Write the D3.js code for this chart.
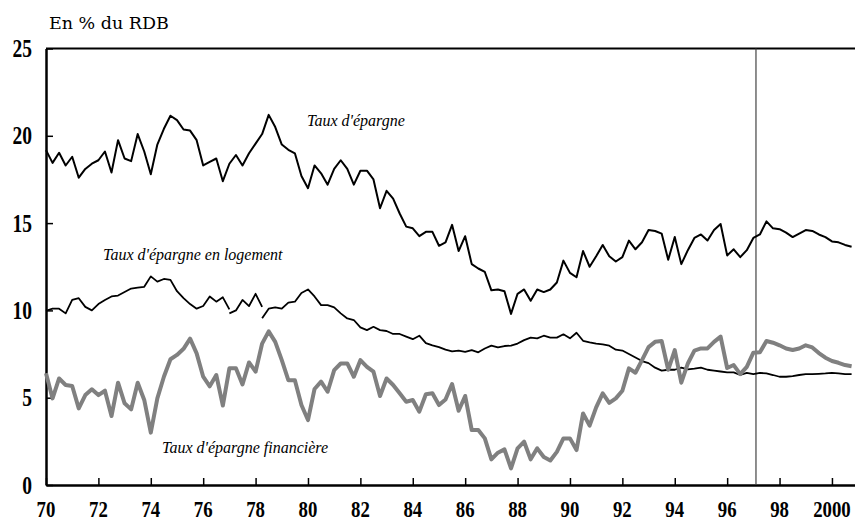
<!DOCTYPE html>
<html>
<head>
<meta charset="utf-8">
<script src="https://cdn.jsdelivr.net/npm/d3@7"></script>
<style>
  html, body { margin: 0; padding: 0; background: #fff; }
  svg { display: block; }
</style>
</head>
<body>
<div id="chart"></div>
<script>
// Données trimestrielles, 1970T1 -> 2000T4 (en % du RDB)
const startYear = 1970;

const tauxEpargne = [
  19.18, 18.45, 19.03, 18.3, 18.8, 17.6, 18.1, 18.4, 18.6, 19.1,
  17.9, 19.75, 18.7, 18.55, 20.1, 19.1, 17.8, 19.5, 20.4, 21.15,
  20.9, 20.36, 20.3, 19.75, 18.3, 18.5, 18.7, 17.4, 18.4, 18.9,
  18.3, 19.0, 19.55, 20.1, 21.2, 20.5, 19.5, 19.2, 19.0, 17.7,
  17.0, 18.3, 17.85, 17.2, 18.1, 18.6, 18.1, 17.2, 18.0, 18.0,
  17.5, 15.85, 16.85, 16.4, 15.55, 14.8, 14.7, 14.25, 14.5, 14.5,
  13.7, 13.9, 14.9, 13.4, 14.25, 12.65, 12.4, 12.2, 11.15, 11.2,
  11.1, 9.8, 10.95, 11.2, 10.55, 11.2, 11.05, 11.2, 11.6, 12.85,
  12.15, 11.9, 13.4, 12.5, 13.1, 13.75, 13.1, 12.8, 13.05, 14.0,
  13.5, 13.9, 14.6, 14.55, 14.4, 12.9, 14.2, 12.65, 13.45, 14.15,
  14.35, 14.0, 14.6, 14.95, 13.15, 13.5, 13.05, 13.45, 14.15, 14.35,
  15.1, 14.7, 14.65, 14.45, 14.2, 14.4, 14.6, 14.55, 14.35, 14.2,
  13.95, 13.9, 13.75, 13.65
];

const tauxLogement = [
  9.98, 10.1, 10.1, 9.83, 10.6, 10.7, 10.2, 10.0, 10.36, 10.6,
  10.8, 10.85, 11.05, 11.25, 11.3, 11.35, 11.95, 11.65, 11.8, 11.75,
  11.1, 10.7, 10.36, 10.1, 10.25, 10.8, 10.5, 10.75, 9.83, 10.0,
  10.6, 10.25, 10.95, 9.55, 10.1, 10.17, 10.1, 10.45, 10.5, 11.0,
  11.2, 10.8, 10.3, 10.3, 10.17, 9.83, 9.54, 9.45, 9.03, 8.87,
  9.06, 8.87, 8.82, 8.65, 8.65, 8.5, 8.35, 8.55, 8.13, 8.0,
  7.9, 7.75, 7.65, 7.7, 7.63, 7.73, 7.6, 7.82, 7.98, 7.88,
  7.96, 7.98, 8.1, 8.3, 8.44, 8.4, 8.55, 8.44, 8.44, 8.63,
  8.4, 8.72, 8.26, 8.17, 8.1, 8.05, 7.98, 7.75, 7.7, 7.5,
  7.3, 7.1, 6.98, 6.72, 6.55, 6.6, 6.6, 6.72, 6.62, 6.66,
  6.72, 6.6, 6.55, 6.5, 6.45, 6.45, 6.3, 6.42, 6.35, 6.42,
  6.39, 6.3, 6.2, 6.2, 6.24, 6.3, 6.35, 6.35, 6.37, 6.39,
  6.42, 6.39, 6.35, 6.35
];
// ruptures de série du taux d'épargne logement : l'ancien segment finit à "fin"
const ruptureLogement = [
  { q: 28, fin: 10.06 },
  { q: 33, fin: 10.2 }
];

const tauxFinancier = [
  6.4, 4.96, 6.1, 5.73, 5.67, 4.39, 5.15, 5.48, 5.15, 5.4,
  3.95, 5.86, 4.68, 4.33, 5.86, 4.87, 3.0, 4.96, 6.2, 7.2,
  7.45, 7.8, 8.38, 7.54, 6.2, 5.65, 6.3, 4.55, 6.68, 6.68,
  5.76, 7.02, 6.49, 8.1, 8.8, 8.2, 7.15, 6.0, 6.0, 4.58,
  3.72, 5.5, 5.92, 5.34, 6.58, 6.96, 6.96, 6.2, 7.15, 6.77,
  6.49, 5.1, 6.1, 5.73, 5.25, 4.77, 4.87, 4.2, 5.2, 5.25,
  4.58, 4.9, 5.78, 4.25, 5.1, 3.15, 3.15, 2.67, 1.47, 1.85,
  2.04, 0.95, 2.1, 2.48, 1.47, 2.1, 1.6, 1.4, 1.9, 2.67,
  2.67, 2.0, 4.1, 3.4, 4.45, 5.25, 4.7, 4.96, 5.4, 6.68,
  6.43, 7.15, 7.9, 8.2, 8.25, 6.6, 7.73, 5.86, 6.96, 7.7,
  7.82, 7.82, 8.2, 8.5, 6.7, 6.87, 6.35, 6.77, 7.58, 7.6,
  8.25, 8.15, 8.0, 7.82, 7.73, 7.82, 8.0, 7.88, 7.56, 7.29,
  7.1, 7.0, 6.87, 6.8
];

const xTicks = [1970, 1972, 1974, 1976, 1978, 1980, 1982, 1984, 1986, 1988, 1990, 1992, 1994, 1996, 1998, 2000];
const xTickLabels = ["70", "72", "74", "76", "78", "80", "82", "84", "86", "88", "90", "92", "94", "96", "98", "2000"];
const yTicks = [0, 5, 10, 15, 20, 25];
const anneePrevision = 1997.1;

const W = 855, H = 523;
const margin = { top: 48.5, right: 0, bottom: 38, left: 46 };

const svg = d3.select("#chart").append("svg")
  .attr("width", W).attr("height", H)
  .style("background", "#fff");

const x = d3.scaleLinear().domain([1970, 2000.88]).range([margin.left, W - margin.right]);
const y = d3.scaleLinear().domain([0, 25]).range([H - margin.bottom, margin.top]);

const toPoints = arr => arr.map((v, i) => ({ t: startYear + i / 4, v: v }));
const line = d3.line().x(d => x(d.t)).y(d => y(d.v));

// cadre : bord supérieur
svg.append("line")
  .attr("x1", x.range()[0]).attr("x2", x.range()[1])
  .attr("y1", y(25)).attr("y2", y(25))
  .attr("stroke", "#000").attr("stroke-width", 2);

// axe vertical (graduations vers l'intérieur)
const yAxis = svg.append("g")
  .attr("transform", `translate(${margin.left},0)`)
  .call(d3.axisLeft(y).tickValues(yTicks).tickSize(-7).tickSizeOuter(0).tickFormat(""));
yAxis.select(".domain").attr("stroke-width", 2.5);
yAxis.selectAll(".tick line").attr("stroke-width", 1.5);

// axe horizontal (graduations vers le haut)
const xAxis = svg.append("g")
  .attr("transform", `translate(0,${y(0)})`)
  .call(d3.axisBottom(x).tickValues(xTicks).tickSize(-7).tickSizeOuter(0).tickFormat(""));
xAxis.select(".domain").attr("stroke-width", 2.5);
xAxis.selectAll(".tick line").attr("stroke-width", 1.5);

const labelFont = "'Liberation Serif', 'Times New Roman', serif";

// libellés de l'axe vertical
svg.append("g").selectAll("g")
  .data(yTicks)
  .join("g")
  .attr("transform", d => `translate(32,${y(d)})`)
  .append("text")
  .attr("transform", "scale(0.78,1)")
  .attr("text-anchor", "end")
  .attr("dy", "0.34em")
  .style("font-family", labelFont)
  .style("font-weight", "bold")
  .style("font-size", "25px")
  .text(d => d);

// libellés de l'axe horizontal
svg.append("g").selectAll("g")
  .data(xTicks)
  .join("g")
  .attr("transform", d => `translate(${x(d)},${y(0) + 32})`)
  .append("text")
  .attr("transform", "scale(0.8,1)")
  .attr("text-anchor", "middle")
  .style("font-family", labelFont)
  .style("font-weight", "bold")
  .style("font-size", "23.5px")
  .text((d, i) => xTickLabels[i]);

// unité
svg.append("text")
  .attr("x", 49).attr("y", 29)
  .style("font-family", "'DejaVu Serif', serif")
  .style("font-size", "17.5px")
  .text("En % du RDB");

// ligne verticale (début de la prévision)
svg.append("line")
  .attr("x1", x(anneePrevision)).attr("x2", x(anneePrevision))
  .attr("y1", y(0)).attr("y2", y(25))
  .attr("stroke", "#444").attr("stroke-width", 1.2);

// taux d'épargne en logement, découpé aux ruptures
const ptsLog = toPoints(tauxLogement);
let debut = 0;
const segments = [];
ruptureLogement.forEach(r => {
  const seg = ptsLog.slice(debut, r.q);
  seg.push({ t: startYear + r.q / 4, v: r.fin });
  segments.push(seg);
  debut = r.q;
});
segments.push(ptsLog.slice(debut));

svg.append("g").selectAll("path")
  .data(segments)
  .join("path")
  .attr("d", line)
  .attr("fill", "none")
  .attr("stroke", "#000")
  .attr("stroke-width", 1.8)
  .attr("stroke-linejoin", "round");

// taux d'épargne financière
svg.append("path")
  .datum(toPoints(tauxFinancier))
  .attr("d", line)
  .attr("fill", "none")
  .attr("stroke", "#808080")
  .attr("stroke-width", 4)
  .attr("stroke-linejoin", "round");

// taux d'épargne
svg.append("path")
  .datum(toPoints(tauxEpargne))
  .attr("d", line)
  .attr("fill", "none")
  .attr("stroke", "#000")
  .attr("stroke-width", 2)
  .attr("stroke-linejoin", "round");

// libellés des séries
const serieLabels = [
  { texte: "Taux d'épargne", x: 307, y: 126 },
  { texte: "Taux d'épargne en logement", x: 103, y: 260 },
  { texte: "Taux d'épargne financière", x: 162, y: 453 }
];
svg.append("g").selectAll("text")
  .data(serieLabels)
  .join("text")
  .attr("x", d => d.x).attr("y", d => d.y)
  .style("font-family", labelFont)
  .style("font-style", "italic")
  .style("font-size", "16px")
  .text(d => d.texte);
</script>
</body>
</html>
